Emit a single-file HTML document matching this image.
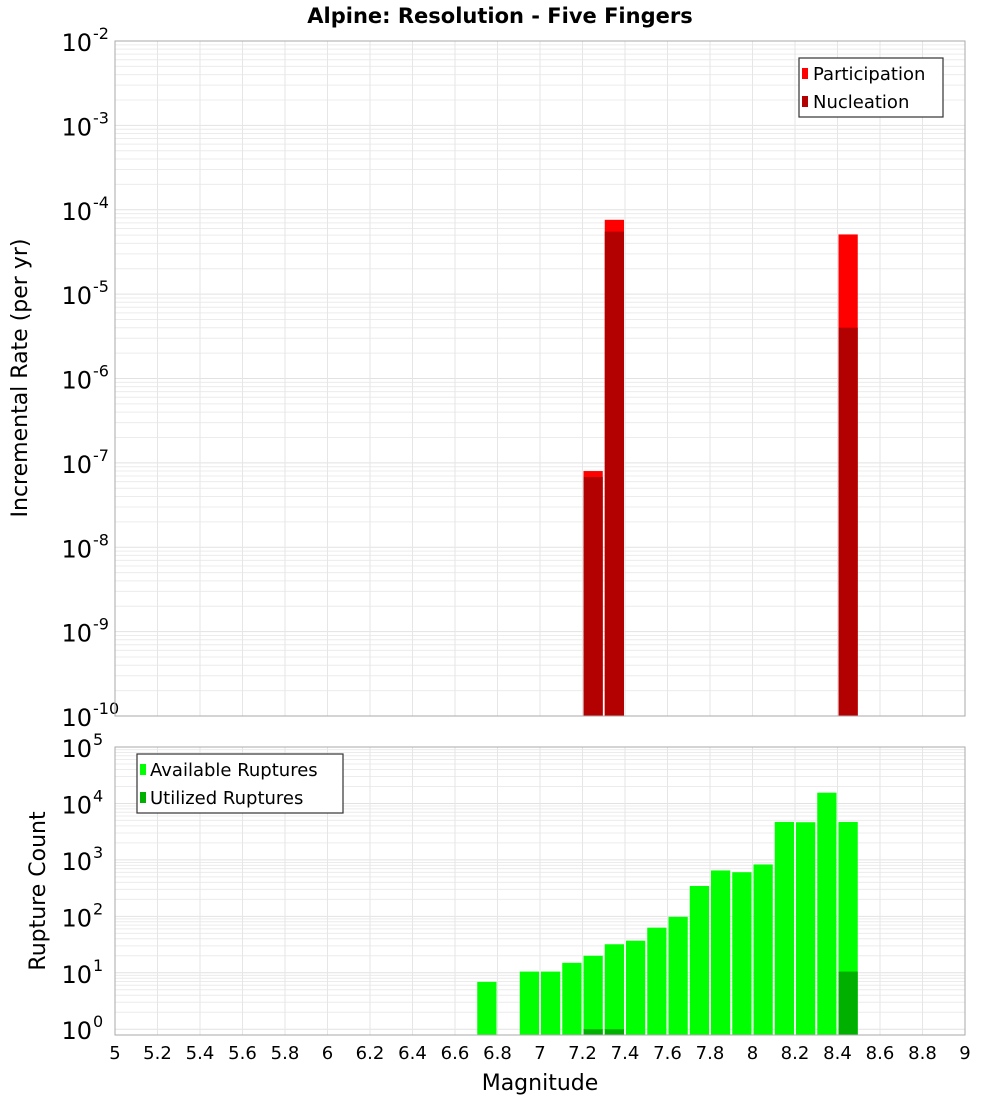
<!DOCTYPE html>
<html><head><meta charset="utf-8"><style>
body{margin:0;background:#fff;}
svg{display:block;font-family:"DejaVu Sans","Liberation Sans",sans-serif;}
</style></head><body>
<svg id="chart" width="1000" height="1100" xmlns="http://www.w3.org/2000/svg">
<text x="500" y="23" text-anchor="middle" font-size="21" font-weight="bold" fill="#000">Alpine: Resolution - Five Fingers</text>
<g id="top"></g>
<g id="bot"></g>
<text transform="translate(27,378) rotate(-90)" text-anchor="middle" font-size="22">Incremental Rate (per yr)</text>
<text transform="translate(45,891) rotate(-90)" text-anchor="middle" font-size="22">Rupture Count</text>
<text x="540" y="1090" text-anchor="middle" font-size="22">Magnitude</text>
<g>
<rect x="799" y="58" width="144" height="59" fill="#fff" stroke="#333" stroke-width="1.2"/>
<rect x="802" y="68" width="6" height="11" fill="#ff0000"/>
<text x="813" y="80" font-size="18">Participation</text>
<rect x="802" y="96" width="6" height="11" fill="#b30000"/>
<text x="813" y="108" font-size="18">Nucleation</text>
</g>
<g>
<rect x="137" y="754" width="206" height="59" fill="#fff" stroke="#333" stroke-width="1.2"/>
<rect x="140" y="764" width="6" height="11" fill="#00ff00"/>
<text x="150" y="776" font-size="18">Available Ruptures</text>
<rect x="140" y="792" width="6" height="11" fill="#00b000"/>
<text x="150" y="804" font-size="18">Utilized Ruptures</text>
</g>
</svg>
<script>
const topMags = [7.25, 7.35, 8.45];
const participation = [8.0e-8, 7.6e-5, 5.1e-5];
const nucleation = [6.8e-8, 5.5e-5, 4.0e-6];
const botMags = [6.75, 6.95, 7.05, 7.15, 7.25, 7.35, 7.45, 7.55, 7.65, 7.75, 7.85, 7.95, 8.05, 8.15, 8.25, 8.35, 8.45];
const available = [6.9, 10.5, 10.5, 15, 20, 32, 37, 63, 98, 345, 650, 605, 830, 4700, 4650, 15500, 4700];
const utilMags = [7.25, 7.35, 8.45];
const utilized = [1, 1, 10.5];
const xTicks = ["5","5.2","5.4","5.6","5.8","6","6.2","6.4","6.6","6.8","7","7.2","7.4","7.6","7.8","8","8.2","8.4","8.6","8.8","9"];

const NS = "http://www.w3.org/2000/svg";
const X0 = 115, X1 = 965;
const xs = m => X0 + (m - 5) / 4 * (X1 - X0);
const T = {top: 41, bot: 716, lmax: -2, lmin: -10};
const B = {top: 747, bot: 1035, lmax: 5, lmin: Math.log10(0.79)};
const ys = (ax, v) => ax.top + (ax.lmax - Math.log10(v)) / (ax.lmax - ax.lmin) * (ax.bot - ax.top);
function mk(parent, tag, attrs) { const e = document.createElementNS(NS, tag); for (const k in attrs) e.setAttribute(k, attrs[k]); parent.appendChild(e); return e; }

function frame(g, ax, dmin, dmax, supSize) {
  for (let d = dmin; d <= dmax; d++) {
    for (let k = 1; k <= 9; k++) {
      const v = k * Math.pow(10, d);
      const y = ys(ax, v);
      if (y < ax.top - 0.5 || y > ax.bot + 0.5) continue;
      const l = mk(g, "line", {x1: X0, x2: X1, y1: y, y2: y, stroke: k === 1 ? "#e2e2e2" : "#ececec", "stroke-width": 1});
      
      
    }
    const y = ys(ax, Math.pow(10, d));
    const t = mk(g, "text", {x: 92, y: y + 10, "text-anchor": "end", "font-size": 24});
    
    
    t.textContent = "10";
    const s = mk(g, "text", {x: 93, y: y - 2, "font-size": 16});
    
    
    s.textContent = String(d);
  }
  xTicks.forEach(lbl => {
    const x = xs(parseFloat(lbl));
    const l = mk(g, "line", {x1: x, x2: x, y1: ax.top, y2: ax.bot, stroke: "#e6e6e6", "stroke-width": 1});
    
    
  });
}
function border(g, ax) {
  const r = mk(g, "rect", {x: X0, y: ax.top, width: X1 - X0, height: ax.bot - ax.top, fill: "none", stroke: "#aaa", "stroke-width": 1});
  
  
}
function bar(g, ax, m, v, color, name) {
  const x = xs(m - 0.05) + 1, w = xs(m + 0.05) - xs(m - 0.05) - 2;
  const y = ys(ax, v);
  const r = mk(g, "rect", {x: x, y: y, width: w, height: ax.bot - y, fill: color});
  
  
}

const gt = document.getElementById("top");
frame(gt, T, -10, -2);
topMags.forEach((m, i) => bar(gt, T, m, participation[i], "#ff0000", "participation-bar"));
topMags.forEach((m, i) => bar(gt, T, m, nucleation[i], "#b30000", "nucleation-bar"));
border(gt, T);

const gb = document.getElementById("bot");
frame(gb, B, 0, 5);
botMags.forEach((m, i) => bar(gb, B, m, available[i], "#00ff00", "available-bar"));
utilMags.forEach((m, i) => bar(gb, B, m, utilized[i], "#00b000", "utilized-bar"));
border(gb, B);
xTicks.forEach(lbl => {
  const t = mk(gb, "text", {x: xs(parseFloat(lbl)), y: 1059, "text-anchor": "middle", "font-size": 18});
  
  
  t.textContent = lbl;
});
</script>
</body></html>
